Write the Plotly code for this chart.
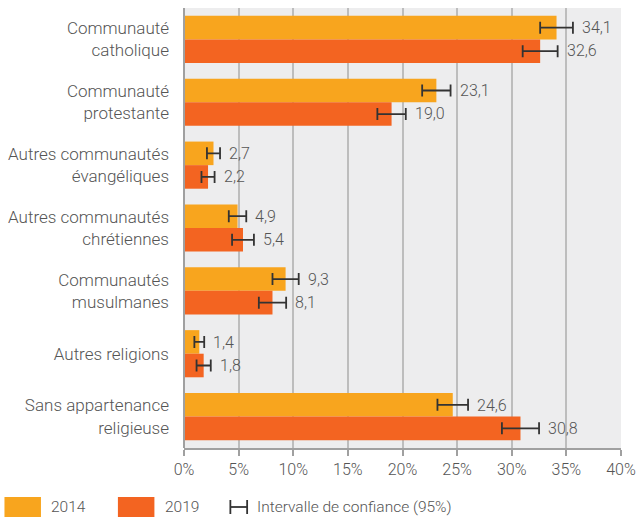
import plotly.graph_objects as go

categories = [
    "Communauté<br>catholique",
    "Communauté<br>protestante",
    "Autres communautés<br>évangéliques",
    "Autres communautés<br>chrétiennes",
    "Communautés<br>musulmanes",
    "Autres religions",
    "Sans appartenance<br>religieuse",
]
values_2014 = [34.1, 23.1, 2.7, 4.9, 9.3, 1.4, 24.6]
values_2019 = [32.6, 19.0, 2.2, 5.4, 8.1, 1.8, 30.8]
ci_2014 = [1.5, 1.3, 0.6, 0.8, 1.2, 0.45, 1.4]
ci_2019 = [1.6, 1.3, 0.6, 1.0, 1.25, 0.65, 1.7]
tick_vals = [0, 5, 10, 15, 20, 25, 30, 35, 40]
tick_text = [f"{v}%" for v in tick_vals]

C2014 = "#F8A51E"
C2019 = "#F36421"
TXT = "#555555"
FONT = "Roboto"

W, H = 644, 517
ML, MR, MT, MB = 182, 19, 8, 69
PW, PH = W - ML - MR, H - MT - MB


def px_x(x):
    return (x - ML) / PW


def px_y(y):
    return (H - MB - y) / PH


fig = go.Figure()
for name, vals, ci, col in [("2014", values_2014, ci_2014, C2014),
                            ("2019", values_2019, ci_2019, C2019)]:
    fig.add_trace(go.Bar(
        y=categories, x=vals, orientation="h", name=name,
        marker=dict(color=col, line=dict(width=0)),
        error_x=dict(type="data", array=ci, visible=True, color="#333333",
                     thickness=1.8, width=6),
        showlegend=False, hoverinfo="skip",
    ))

annotations = []
for vals, ci, shift in [(values_2014, ci_2014, 11.5), (values_2019, ci_2019, -11.5)]:
    for cat, v, e in zip(categories, vals, ci):
        annotations.append(dict(
            x=v + e, y=cat, xref="x", yref="y", text=f"{v:.1f}".replace(".", ","),
            showarrow=False, xanchor="left", yanchor="middle", xshift=7, yshift=shift,
            font=dict(family=FONT, size=16, color=TXT, weight=300),
        ))

# Legend drawn in paper coordinates
shapes = [
    dict(type="rect", xref="paper", yref="paper", x0=px_x(0), x1=px_x(37),
         y0=px_y(497), y1=px_y(530), fillcolor=C2014, line=dict(width=0)),
    dict(type="rect", xref="paper", yref="paper", x0=px_x(115), x1=px_x(152),
         y0=px_y(497), y1=px_y(530), fillcolor=C2019, line=dict(width=0)),
    dict(type="line", xref="paper", yref="paper", x0=px_x(229), x1=px_x(246),
         y0=px_y(507), y1=px_y(507), line=dict(color="#333333", width=1.8)),
    dict(type="line", xref="paper", yref="paper", x0=px_x(229), x1=px_x(229),
         y0=px_y(500), y1=px_y(514), line=dict(color="#333333", width=1.8)),
    dict(type="line", xref="paper", yref="paper", x0=px_x(246), x1=px_x(246),
         y0=px_y(500), y1=px_y(514), line=dict(color="#333333", width=1.8)),
]
for txt, xp in [("2014", 45), ("2019", 161), ("Intervalle de confiance (95%)", 254)]:
    annotations.append(dict(
        x=px_x(xp), y=px_y(507), xref="paper", yref="paper", text=txt,
        showarrow=False, xanchor="left", yanchor="middle",
        font=dict(family=FONT, size=15.5, color=TXT, weight=300),
    ))

fig.update_layout(
    width=W, height=H,
    margin=dict(l=ML, r=MR, t=MT, b=MB, pad=0),
    barmode="group", bargap=0.25, bargroupgap=0,
    plot_bgcolor="#EDEDEE", paper_bgcolor="white",
    font=dict(family=FONT, size=16, color=TXT, weight=300),
    xaxis=dict(range=[0, 40], tickvals=tick_vals, ticktext=tick_text,
               showgrid=True, gridcolor="#BDBDBD", gridwidth=1.6,
               zeroline=False, showline=True, linecolor="#A0A0A0", linewidth=1.6,
               ticks="outside", ticklen=6, tickcolor="#A0A0A0", tickwidth=1.6,
               tickfont=dict(family=FONT, size=16, color=TXT, weight=300),
               fixedrange=True),
    yaxis=dict(categoryorder="array", categoryarray=categories, autorange="reversed",
               showgrid=False, zeroline=False, showline=False,
               ticks="", ticklabelstandoff=14,
               tickfont=dict(family=FONT, size=17, color=TXT, weight=300),
               fixedrange=True),
    shapes=shapes, annotations=annotations,
)
fig.add_shape(type="line", xref="paper", yref="paper", x0=0, x1=0, y0=0, y1=1,
              line=dict(color="#A0A0A0", width=2))

fig.write_html(
    "out.html",
    config={"displayModeBar": False},
    post_script="document.body.style.margin='0px';document.body.style.overflow='hidden';",
)
